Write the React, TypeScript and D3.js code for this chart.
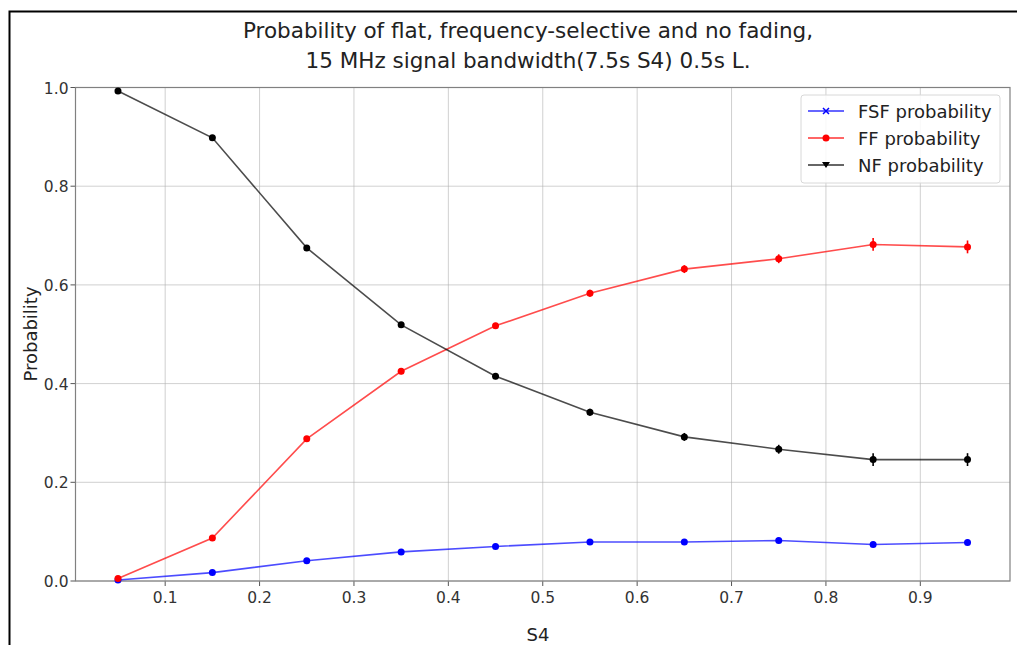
import React from "react";
import * as d3 from "d3";

const s4 = [0.05, 0.15, 0.25, 0.35, 0.45, 0.55, 0.65, 0.75, 0.85, 0.95];
const fsf = [0.002, 0.017, 0.041, 0.059, 0.070, 0.079, 0.079, 0.082, 0.074, 0.078];
const fsfErr = [0.001, 0.002, 0.003, 0.003, 0.004, 0.004, 0.004, 0.005, 0.005, 0.006];
const ff = [0.005, 0.087, 0.288, 0.425, 0.517, 0.583, 0.632, 0.653, 0.682, 0.677];
const ffErr = [0.002, 0.004, 0.005, 0.006, 0.006, 0.007, 0.008, 0.009, 0.013, 0.013];
const nf = [0.993, 0.898, 0.675, 0.519, 0.415, 0.342, 0.292, 0.267, 0.246, 0.246];
const nfErr = [0.002, 0.004, 0.005, 0.006, 0.006, 0.007, 0.008, 0.009, 0.013, 0.013];
const xTicks = [0.1, 0.2, 0.3, 0.4, 0.5, 0.6, 0.7, 0.8, 0.9];
const yTicks = [0, 0.2, 0.4, 0.6, 0.8, 1.0];
const titleLines = [
  "Probability of flat, frequency-selective and no fading,",
  "15 MHz signal bandwidth(7.5s S4) 0.5s L.",
];

const series = [
  { name: "FSF probability", values: fsf, err: fsfErr, color: "#0000ff", marker: "x" },
  { name: "FF probability", values: ff, err: ffErr, color: "#ff0000", marker: "o" },
  { name: "NF probability", values: nf, err: nfErr, color: "#000000", marker: "v" },
];

const L = 75.5, R = 1010, T = 87.5, B = 581;
const font = "DejaVu Sans, sans-serif";

export default function App() {
  const x = d3.scaleLinear().domain([0.005, 0.995]).range([L, R]);
  const y = d3.scaleLinear().domain([0, 1]).range([B, T]);
  const line = d3.line<number>().x((_, i) => x(s4[i])).y((d) => y(d));

  return (
    <svg width={1017} height={645} style={{ position: "absolute", left: 0, top: 0, background: "#fff" }}>
      <rect x={0} y={0} width={1017} height={645} fill="#fff" />
      <path d="M9.5,645 V11.5 H1017" fill="none" stroke="#000" strokeWidth={2} />
      {titleLines.map((t, i) => (
        <text key={i} x={528} y={38 + i * 30} textAnchor="middle" fontFamily={font} fontSize={21.5} fill="#222">{t}</text>
      ))}
      {xTicks.map((t) => (
        <g key={"x" + t}>
          <line x1={x(t)} x2={x(t)} y1={T} y2={B} stroke="#b0b0b0" strokeOpacity={0.6} strokeWidth={1} />
          <line x1={x(t)} x2={x(t)} y1={B} y2={B + 5} stroke="#555" />
          <text x={x(t)} y={B + 22} textAnchor="middle" fontFamily={font} fontSize={15.5} fill="#333">{t.toFixed(1)}</text>
        </g>
      ))}
      {yTicks.map((t) => (
        <g key={"y" + t}>
          <line x1={L} x2={R} y1={y(t)} y2={y(t)} stroke="#b0b0b0" strokeOpacity={0.6} strokeWidth={1} />
          <line x1={L - 5} x2={L} y1={y(t)} y2={y(t)} stroke="#555" />
          <text x={L - 7} y={y(t) + 6} textAnchor="end" fontFamily={font} fontSize={15.5} fill="#333">{t.toFixed(1)}</text>
        </g>
      ))}
      <rect x={L} y={T} width={R - L} height={B - T} fill="none" stroke="#808080" strokeWidth={1.2} />
      {series.map((s) => (
        <g key={s.name}>
          <path d={line(s.values) || ""} fill="none" stroke={s.color} strokeOpacity={0.7} strokeWidth={1.6} />
          {s.values.map((v, i) => (
            <g key={i}>
              <line x1={x(s4[i])} x2={x(s4[i])} y1={y(v - s.err[i])} y2={y(v + s.err[i])} stroke={s.color} strokeWidth={1.6} />
              <circle cx={x(s4[i])} cy={y(v)} r={3.5} fill={s.color} />
            </g>
          ))}
        </g>
      ))}
      <g>
        <rect x={801} y={95} width={199} height={88} rx={3} fill="#fff" fillOpacity={0.85} stroke="#d8d8d8" />
        {series.map((s, i) => {
          const cy = 111 + i * 27;
          return (
            <g key={s.name}>
              <line x1={808} x2={844} y1={cy} y2={cy} stroke={s.color} strokeWidth={1.6} strokeOpacity={0.8} />
              {s.marker === "x" ? (
                <path d={`M${826 - 3},${cy - 3}L${826 + 3},${cy + 3}M${826 - 3},${cy + 3}L${826 + 3},${cy - 3}`} stroke={s.color} strokeWidth={1.5} />
              ) : s.marker === "o" ? (
                <circle cx={826} cy={cy} r={3.5} fill={s.color} />
              ) : (
                <path d={`M${822},${cy - 3}L${830},${cy - 3}L${826},${cy + 3}Z`} fill={s.color} />
              )}
              <text x={858} y={cy + 6.5} fontFamily={font} fontSize={18} fill="#222">{s.name}</text>
            </g>
          );
        })}
      </g>
      <text x={538} y={641} textAnchor="middle" fontFamily={font} fontSize={18} fill="#222">S4</text>
      <text transform={`translate(37,334) rotate(-90)`} textAnchor="middle" fontFamily={font} fontSize={18} fill="#222">Probability</text>
    </svg>
  );
}
